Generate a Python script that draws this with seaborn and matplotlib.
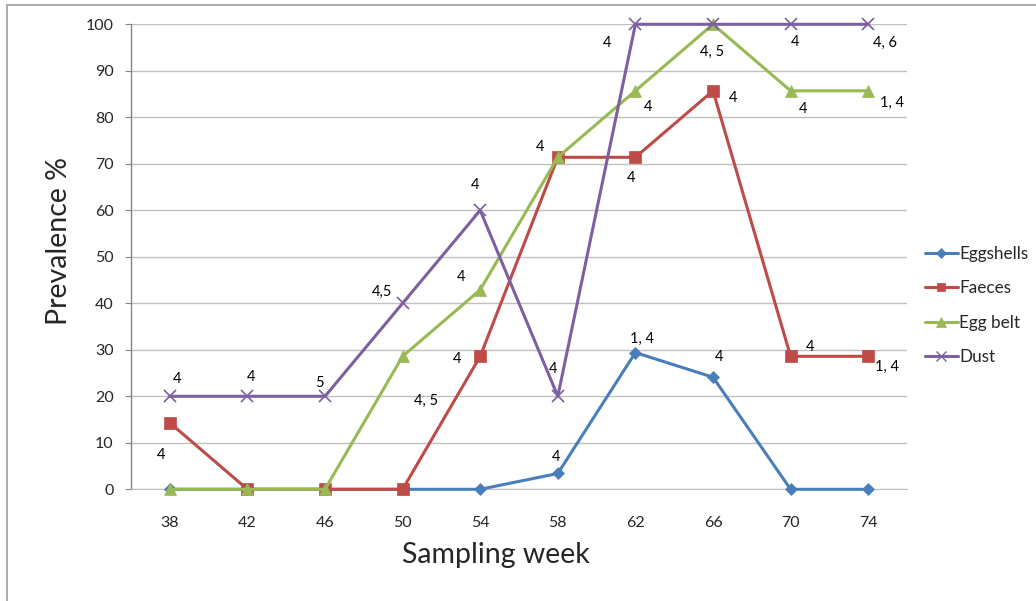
import matplotlib
matplotlib.use("Agg")
import matplotlib.pyplot as plt
import seaborn as sns
import pandas as pd
from matplotlib.patches import Rectangle
from matplotlib.lines import Line2D

# ---- data ----
weeks = [38, 42, 46, 50, 54, 58, 62, 66, 70, 74]
series_names = ["Eggshells", "Faeces", "Egg belt", "Dust"]
eggshells = [0, 0, 0, 0, 0, 3.4, 29.4, 24.1, 0, 0]
faeces = [14.3, 0, 0, 0, 28.6, 71.4, 71.4, 85.7, 28.6, 28.6]
egg_belt = [0, 0, 0, 28.6, 42.9, 71.4, 85.7, 100, 85.7, 85.7]
dust = [20, 20, 20, 40, 60, 20, 100, 100, 100, 100]

eggshells_labels = [None, None, None, None, None, "4", "1, 4", "4", None, None]
faeces_labels = ["4", None, None, None, "4", "4", "4", "4", "4", "1, 4"]
egg_belt_labels = [None, None, None, "4, 5", "4", None, "4", "4, 5", "4", "1, 4"]
dust_labels = ["4", "4", "5", "4,5", "4", "4", "4", None, "4", "4, 6"]

y_ticks = [0, 10, 20, 30, 40, 50, 60, 70, 80, 90, 100]
x_title = "Sampling week"
y_title = "Prevalence %"

# ---- styles / positions (pixel offsets of value labels) ----
eggshells_off = [None, None, None, None, None, (-2, 16), (7, 14), (6, 20), None, None]
faeces_off = [(-9, -32), None, None, None, (-23, -3), (-18, 10), (-4, -21), (20, -7), (19, 9), (19, -11)]
egg_belt_off = [None, None, None, (23, -45), (-19, 13), None, (13, -16), (-1, -28), (12, -18), (24, -12)]
dust_off = [(7, 17), (4, 19), (-6, 13), (-21, 11), (-5, 25), (-5, 27), (-28, -19), None, (4, -18), (17, -19)]

colors = {"Eggshells": "#4A7EBB", "Faeces": "#BE4B48", "Egg belt": "#98B954", "Dust": "#7D60A0"}
markers = {"Eggshells": "D", "Faeces": "s", "Egg belt": "^", "Dust": "x"}
msizes = {"Eggshells": 6.5, "Faeces": 8.5, "Egg belt": 9, "Dust": 9}

sns.set_style("white")
plt.rcParams["font.family"] = ["Lato", "DejaVu Sans"]

df = pd.DataFrame({"week": weeks * 4,
                   "value": eggshells + faeces + egg_belt + dust,
                   "series": sum([[n] * len(weeks) for n in series_names], [])})

fig = plt.figure(figsize=(10.36, 6.01), dpi=100)
W, H = 1036, 601
ax = fig.add_axes([131 / W, (H - 489.3) / H, 776 / W, 465 / H])

all_labels = [eggshells_labels, faeces_labels, egg_belt_labels, dust_labels]
all_offs = [eggshells_off, faeces_off, egg_belt_off, dust_off]

for k, name in enumerate(series_names):
    sub = df[df["series"] == name]
    sns.lineplot(data=sub, x="week", y="value", ax=ax, color=colors[name],
                 marker=markers[name], markersize=msizes[name],
                 markeredgewidth=1.2 if name == "Dust" else 0.5,
                 markeredgecolor=colors[name],
                 linewidth=2.2, clip_on=False, zorder=3 + k, legend=False)

for k, name in enumerate(series_names):
    sub = df[df["series"] == name].reset_index(drop=True)
    for i in range(len(sub)):
        lab = all_labels[k][i]
        if lab is None:
            continue
        ax.annotate(lab, xy=(sub["week"][i], sub["value"][i]), xytext=all_offs[k][i],
                    textcoords="offset pixels", ha="center", va="center",
                    fontsize=10.5, color="black", zorder=10)

ax.set_xlim(36, 76)
ax.set_ylim(0, 100)
ax.set_xticks(weeks)
ax.set_xticklabels([str(w) for w in weeks])
ax.set_yticks(y_ticks)
ax.grid(axis="y", color="#C0C0C0", linewidth=1.0, zorder=0)
ax.set_axisbelow(True)
for s in ["top", "right"]:
    ax.spines[s].set_visible(False)
ax.spines["left"].set_color("#868686")
ax.spines["bottom"].set_color("#C0C0C0")
ax.spines["left"].set_linewidth(1.0)
ax.tick_params(axis="y", length=4, color="#868686", pad=8.6, labelsize=11.5, left=True)
ax.tick_params(axis="x", length=0, pad=19, labelsize=11.5)

ax.set_xlabel(x_title, fontsize=20.5, va="center")
ax.xaxis.set_label_coords((496 - 131) / 776, -(555 - 489.3) / 465)
ax.set_ylabel(y_title, fontsize=20.5, va="center")
ax.yaxis.set_label_coords((59 - 131) / 776, (489.3 - 241) / 465)

handles = [Line2D([0], [0], color=colors[n], marker=markers[n], markersize=msizes[n] * 0.75,
                  markeredgewidth=1.0 if n == "Dust" else 0.5, markeredgecolor=colors[n],
                  linewidth=2.2) for n in series_names]
fig.legend(handles, series_names, loc="upper left", bbox_to_anchor=(925 / W, 1 - 246 / H),
           frameon=False, fontsize=12.3, handlelength=1.93, handletextpad=0.08,
           labelspacing=1.07, borderpad=0, borderaxespad=0)

fig.patches.append(Rectangle((7 / W, -0.1), 1.2, 1 - 5 / H + 0.1, transform=fig.transFigure,
                             fill=False, edgecolor="#A6A6A6", linewidth=1.3))

fig.savefig("out.png", dpi=100)
